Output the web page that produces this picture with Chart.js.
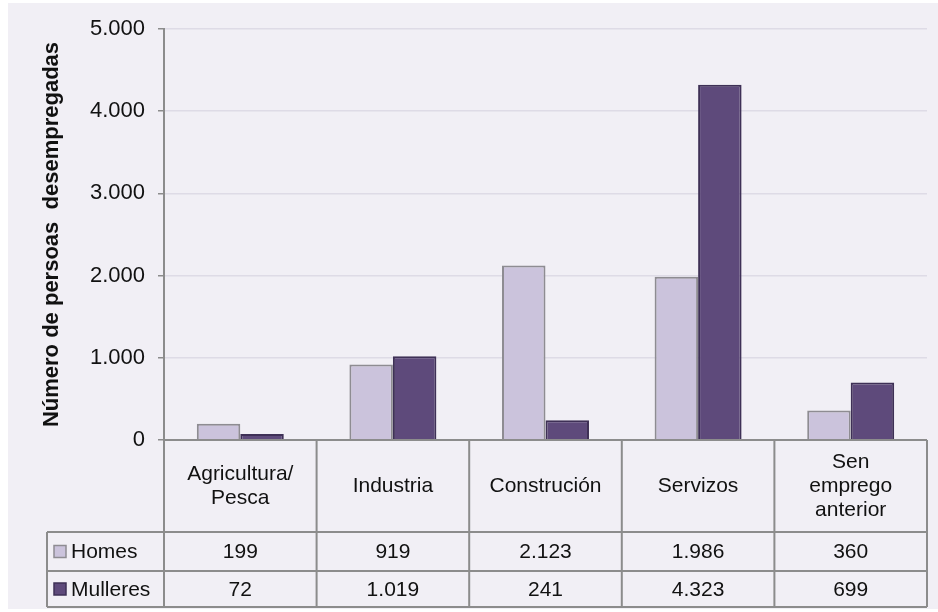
<!DOCTYPE html>
<html>
<head>
<meta charset="utf-8">
<script src="https://cdn.jsdelivr.net/npm/chart.js@4/dist/chart.umd.min.js"></script>
<style>
  html, body { margin: 0; padding: 0; background: #fff; }
  #wrap { width: 938px; height: 612px; }
</style>
</head>
<body>
<div id="wrap"><canvas id="barChart" width="938" height="612"></canvas></div>
<script>
// data
const categories = [['Agricultura/', 'Pesca'], ['Industria'], ['Construción'], ['Servizos'], ['Sen', 'emprego', 'anterior']];
const homes = [199, 919, 2123, 1986, 360];
const mulleres = [72, 1019, 241, 4323, 699];
const seriesNames = ['Homes', 'Mulleres'];
const yTicks = [0, 1000, 2000, 3000, 4000, 5000];

const homesColor = '#cbc3dc';
const mulleresColor = '#5e4a7b';
const lineColor = '#8c8c8c';
const fontFamily = '"Liberation Sans", Arial, sans-serif';

// 1234 -> "1.234"
function fmt(v) {
  return String(v).replace(/\B(?=(\d{3})+(?!\d))/g, '.');
}

// light lavender panel behind everything
const panelBg = {
  id: 'panelBg',
  beforeDraw(chart) {
    const c = chart.ctx;
    c.save();
    c.fillStyle = '#ffffff';
    c.fillRect(0, 0, chart.width, chart.height);
    c.fillStyle = '#f1eff5';
    c.fillRect(8, 3, chart.width - 8, 606);
    c.restore();
  }
};

// data table under the plot (Excel style)
const dataTable = {
  id: 'dataTable',
  afterDraw(chart) {
    const c = chart.ctx;
    const x = chart.scales.x;
    const area = chart.chartArea;
    const n = categories.length;
    const colW = (area.right - area.left) / n;
    const top = area.bottom;
    const headBottom = 532;
    const rowBottoms = [571, 607];
    const legendLeft = 47;

    c.save();
    c.strokeStyle = lineColor;
    c.lineWidth = 2;
    c.beginPath();
    // header row top + vertical separators
    c.moveTo(area.left, top); c.lineTo(area.right, top);
    for (let i = 0; i <= n; i++) {
      const px = area.left + i * colW;
      c.moveTo(px, top); c.lineTo(px, rowBottoms[1]);
    }
    // data rows
    c.moveTo(legendLeft, headBottom); c.lineTo(area.right, headBottom);
    c.moveTo(legendLeft, rowBottoms[0]); c.lineTo(area.right, rowBottoms[0]);
    c.moveTo(legendLeft, rowBottoms[1]); c.lineTo(area.right, rowBottoms[1]);
    c.moveTo(legendLeft, headBottom); c.lineTo(legendLeft, rowBottoms[1]);
    c.stroke();

    c.fillStyle = '#111';
    c.font = '21px ' + fontFamily;
    c.textAlign = 'center';
    c.textBaseline = 'middle';
    const lh = 24;
    const headMid = (top + headBottom) / 2;
    categories.forEach((lines, i) => {
      const cx = x.getPixelForValue(i);
      const y0 = headMid - (lines.length - 1) * lh / 2;
      lines.forEach((t, j) => c.fillText(t, cx, y0 + j * lh));
    });

    const rows = [homes, mulleres];
    const rowTops = [headBottom, rowBottoms[0]];
    rows.forEach((vals, r) => {
      const cy = (rowTops[r] + rowBottoms[r]) / 2 + 1;
      vals.forEach((v, i) => {
        c.fillStyle = '#111';
        c.textAlign = 'center';
        c.fillText(fmt(v), x.getPixelForValue(i), cy);
      });
      // legend key
      const ds = chart.data.datasets[r];
      c.fillStyle = ds.backgroundColor;
      c.strokeStyle = ds.borderColor;
      c.lineWidth = 1.5;
      c.fillRect(54, cy - 7, 12, 12);
      c.strokeRect(54, cy - 7, 12, 12);
      c.fillStyle = '#111';
      c.textAlign = 'left';
      c.fillText(seriesNames[r], 71, cy);
    });
    c.restore();
  }
};

new Chart(document.getElementById('barChart').getContext('2d'), {
  type: 'bar',
  data: {
    labels: categories.map(l => l.join(' ')),
    datasets: [{
      label: seriesNames[0],
      data: homes,
      backgroundColor: homesColor,
      borderColor: '#8e8c92',
      borderWidth: 2,
      borderSkipped: 'bottom'
    }, {
      label: seriesNames[1],
      data: mulleres,
      backgroundColor: mulleresColor,
      borderColor: '#3e3056',
      borderWidth: 2,
      borderSkipped: 'bottom'
    }]
  },
  options: {
    responsive: false,
    animation: false,
    devicePixelRatio: 1,
    layout: { padding: { top: 29, right: 11, bottom: 172, left: 0 } },
    datasets: { bar: { categoryPercentage: 0.57, barPercentage: 1.0 } },
    scales: {
      x: {
        display: false,
        offset: true
      },
      y: {
        min: 0,
        max: 5000,
        afterBuildTicks: s => { s.ticks = yTicks.map(v => ({ value: v })); },
        afterFit: s => { s.width = 164; },
        ticks: {
          color: '#111',
          padding: 13,
          font: { family: fontFamily, size: 22 },
          callback: v => fmt(v)
        },
        grid: {
          color: '#dedbe6',
          lineWidth: 1.5,
          tickColor: lineColor,
          tickLength: 6
        },
        border: { color: lineColor, width: 2 },
        title: {
          display: true,
          text: 'Número de persoas  desempregadas',
          color: '#111',
          padding: { top: 39, bottom: 0 },
          font: { family: fontFamily, size: 22, weight: 'bold' }
        }
      }
    },
    plugins: {
      legend: { display: false },
      tooltip: { enabled: false }
    }
  },
  plugins: [panelBg, dataTable]
});
</script>
</body>
</html>
